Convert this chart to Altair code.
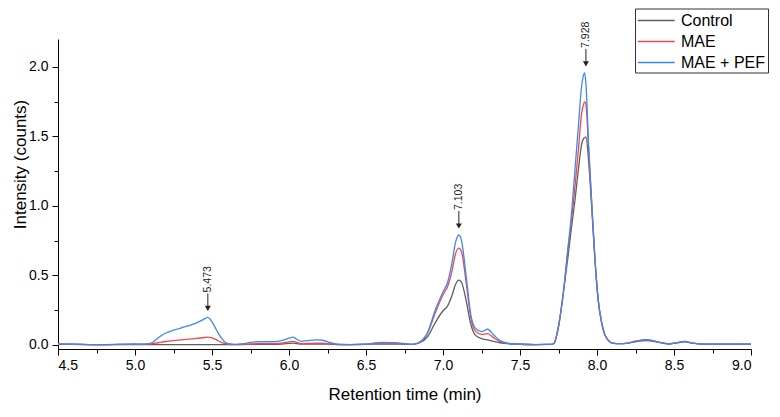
import altair as alt
import pandas as pd

# Retention time (min)
time = [4.50, 4.60, 4.70, 4.80, 4.90, 5.00, 5.05, 5.10, 5.15, 5.20, 5.25, 5.30, 5.35, 5.40,
        5.44, 5.473, 5.50, 5.53, 5.56, 5.60, 5.65, 5.70, 5.75, 5.80, 5.85, 5.90, 5.95, 6.00,
        6.025, 6.05, 6.08, 6.12, 6.18, 6.22, 6.27, 6.32, 6.40, 6.50, 6.60, 6.68, 6.75, 6.80,
        6.85, 6.90, 6.95, 7.00, 7.03, 7.06, 7.08, 7.103, 7.12, 7.15, 7.18, 7.21, 7.25, 7.29,
        7.33, 7.37, 7.42, 7.50, 7.60, 7.70, 7.72, 7.75, 7.78, 7.81, 7.835, 7.857, 7.879, 7.90,
        7.91, 7.92, 7.928, 7.945, 7.965, 7.987, 8.008, 8.03, 8.05, 8.075, 8.10, 8.15, 8.20,
        8.25, 8.32, 8.40, 8.47, 8.53, 8.57, 8.62, 8.70, 8.80, 9.00]

control = [0.003, 0.003, 0.002, 0.002, 0.002, 0.002, 0.002, 0.002, 0.002, 0.002, 0.002, 0.002, 0.002, 0.002,
           0.002, 0.002, 0.002, 0.002, 0.002, 0.002, 0.002, 0.002, 0.003, 0.004, 0.004, 0.004, 0.006, 0.010,
           0.012, 0.009, 0.005, 0.005, 0.006, 0.006, 0.004, 0.002, 0.002, 0.003, 0.006, 0.006, 0.004, 0.003,
           0.015, 0.060, 0.160, 0.245, 0.280, 0.360, 0.430, 0.465, 0.450, 0.320, 0.150, 0.070, 0.045, 0.035,
           0.025, 0.015, 0.008, 0.004, 0.002, 0.003, 0.010, 0.130, 0.360, 0.620, 0.850, 1.040, 1.260, 1.440,
           1.480, 1.490, 1.496, 1.330, 1.000, 0.610, 0.320, 0.160, 0.075, 0.030, 0.012, 0.008, 0.012,
           0.022, 0.030, 0.018, 0.006, 0.016, 0.022, 0.012, 0.004, 0.004, 0.004]

mae = [0.006, 0.004, 0.001, 0.000, 0.003, 0.004, 0.004, 0.006, 0.015, 0.024, 0.030, 0.036, 0.041, 0.046,
       0.051, 0.055, 0.050, 0.036, 0.018, 0.006, 0.002, 0.003, 0.006, 0.008, 0.009, 0.010, 0.013, 0.022,
       0.025, 0.018, 0.008, 0.010, 0.012, 0.012, 0.006, 0.002, 0.002, 0.005, 0.015, 0.013, 0.007, 0.003,
       0.020, 0.085, 0.230, 0.360, 0.420, 0.540, 0.650, 0.695, 0.670, 0.450, 0.200, 0.100, 0.075, 0.080,
       0.050, 0.025, 0.010, 0.004, 0.002, 0.003, 0.010, 0.130, 0.360, 0.670, 0.900, 1.140, 1.400, 1.665,
       1.720, 1.748, 1.730, 1.420, 1.030, 0.610, 0.320, 0.160, 0.075, 0.030, 0.012, 0.008, 0.013,
       0.026, 0.036, 0.020, 0.007, 0.018, 0.025, 0.012, 0.004, 0.004, 0.004]

mae_pef = [0.005, 0.004, 0.002, 0.002, 0.004, 0.006, 0.005, 0.010, 0.050, 0.085, 0.105, 0.122, 0.138, 0.158,
           0.180, 0.197, 0.165, 0.105, 0.050, 0.010, 0.003, 0.008, 0.018, 0.022, 0.022, 0.023, 0.030, 0.048,
           0.055, 0.040, 0.025, 0.030, 0.036, 0.033, 0.015, 0.004, 0.002, 0.004, 0.018, 0.016, 0.008, 0.003,
           0.020, 0.090, 0.250, 0.380, 0.450, 0.600, 0.730, 0.790, 0.750, 0.500, 0.220, 0.120, 0.095, 0.112,
           0.070, 0.030, 0.012, 0.004, 0.002, 0.003, 0.010, 0.140, 0.360, 0.680, 0.950, 1.260, 1.570, 1.860,
           1.930, 1.956, 1.880, 1.450, 1.040, 0.610, 0.320, 0.160, 0.075, 0.030, 0.012, 0.008, 0.013,
           0.026, 0.038, 0.020, 0.008, 0.018, 0.025, 0.012, 0.004, 0.004, 0.004]

series_names = ["Control", "MAE", "MAE + PEF"]
series_colors = ["#5f5f5f", "#f04848", "#3f87f2"]

peak_times = [5.473, 7.103, 7.928]
peak_heights = [0.197, 0.790, 1.956]
peak_labels = ["5.473", "7.103", "7.928"]

x_major = [4.5, 5.0, 5.5, 6.0, 6.5, 7.0, 7.5, 8.0, 8.5, 9.0]
x_minor = [4.75, 5.25, 5.75, 6.25, 6.75, 7.25, 7.75, 8.25, 8.75]
y_major = [0.0, 0.5, 1.0, 1.5, 2.0]
y_minor = [0.25, 0.75, 1.25, 1.75]

rows = []
for name, vals in zip(series_names, [control, mae, mae_pef]):
    for t, v in zip(time, vals):
        rows.append({"time": t, "intensity": v, "sample": name})
df = pd.DataFrame(rows)

ann = pd.DataFrame({"time": peak_times, "intensity": peak_heights, "label": peak_labels})

FONT = "Liberation Sans"
xscale = alt.Scale(domain=[4.5, 9.0], nice=False, zero=False)
yscale = alt.Scale(domain=[-0.03, 2.2], nice=False, zero=False)

axis_common = dict(grid=False, domainColor="#000000", tickColor="#000000", labelColor="#000000",
                   titleColor="#000000", labelFont=FONT, titleFont=FONT, labelFontSize=14,
                   titleFontWeight="normal", tickSize=6, domainWidth=1, tickWidth=1)

lines = alt.Chart(df).mark_line(strokeWidth=1.3, interpolate="monotone").encode(
    x=alt.X("time:Q", scale=xscale,
            axis=alt.Axis(values=x_major, format=".1f", title="Retention time (min)",
                          orient="bottom", labelPadding=3, titlePadding=14, titleFontSize=17,
                          **axis_common)),
    y=alt.Y("intensity:Q", scale=yscale,
            axis=alt.Axis(values=y_major, format=".1f", title="Intensity (counts)",
                          orient="left", labelPadding=4, titleFontSize=17, titleX=-33, titleY=125,
                          titleBaseline="alphabetic", titleAlign="center", titleAngle=270,
                          **axis_common)),
    color=alt.Color("sample:N", scale=alt.Scale(domain=series_names, range=series_colors),
                    legend=alt.Legend(orient="none", legendX=577, legendY=-30.5, title=None,
                                      symbolType="M-1,0H3", symbolSize=342, symbolStrokeWidth=1.3,
                                      labelFont=FONT, labelFontSize=16, labelColor="#000000",
                                      strokeColor="#333333", fillColor="white", padding=2,
                                      rowPadding=3, labelOffset=24, cornerRadius=0)),
)

minor = alt.Chart(pd.DataFrame({"time": [4.5], "intensity": [0.0]})).mark_point(opacity=0).encode(
    x=alt.X("time:Q", scale=xscale,
            axis=alt.Axis(values=x_minor, labels=False, domain=False, grid=False, tickSize=4,
                          tickColor="#000000", title=None, orient="bottom")),
    y=alt.Y("intensity:Q", scale=yscale,
            axis=alt.Axis(values=y_minor, labels=False, domain=False, grid=False, tickSize=4,
                          tickColor="#000000", title=None, orient="left")),
)

arrow_line = alt.Chart(ann).mark_rule(color="#222222", strokeWidth=1, yOffset=-24, y2Offset=-11).encode(
    x=alt.X("time:Q", scale=xscale, axis=None),
    y=alt.Y("intensity:Q", scale=yscale, axis=None),
    y2="intensity:Q",
)

arrow_head = alt.Chart(ann).mark_point(shape="triangle-down", filled=True, color="#222222",
                                       size=36, opacity=1, yOffset=-9).encode(
    x=alt.X("time:Q", scale=xscale, axis=None),
    y=alt.Y("intensity:Q", scale=yscale, axis=None),
)

labels = alt.Chart(ann).mark_text(angle=270, align="left", baseline="middle", font=FONT,
                                  fontSize=10.5, color="#222222", yOffset=-25).encode(
    x=alt.X("time:Q", scale=xscale, axis=None),
    y=alt.Y("intensity:Q", scale=yscale, axis=None),
    text="label:N",
)

chart = alt.layer(lines, minor, arrow_line, arrow_head, labels).resolve_axis(
    x="independent", y="independent"
).properties(
    width=693, height=310,
    autosize=alt.AutoSizeParams(type="none"),
    padding={"left": 50, "top": 31, "right": 20, "bottom": 60},
).configure_view(stroke=None)

chart.save("out.html", embed_options={"renderer": "svg", "actions": False})
